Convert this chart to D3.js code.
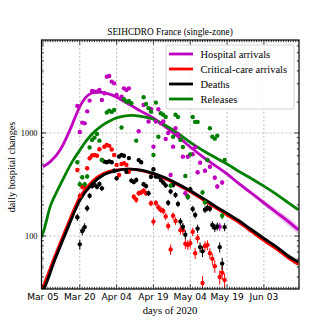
<!DOCTYPE html>
<html>
<head>
<meta charset="utf-8">
<script src="https://cdn.jsdelivr.net/npm/d3@7"></script>
<style>
  body { margin: 0; background: #fff; }
  svg { display: block; }
</style>
</head>
<body>
<div id="chart"></div>
<script>
// days are counted from Mar 05 2020 (day 0)
const seriesNames = ["Hospital arrivals", "Critical-care arrivals", "Deaths", "Releases"];
const seriesColors = ["#bf00bf", "#ff0000", "#000000", "#008000"];

// model curves [day, value]
const hospModel = [[0,470],[3,527],[7,684],[11,1070],[13,1400],[15,1800],[17,2150],[19,2380],[21,2470],[23,2490],[25,2450],[28,2340],[30,2220],[35,1900],[40,1620],[45,1390],[50,1140],[55,920],[60,730],[65,590],[70,485],[75,400],[80,320],[85,260],[90,210],[95,170],[100,138],[104,115]];
const critModel = [[-1,28],[0,32],[5,65],[10,128],[15,238],[20,338],[25,408],[30,438],[35,445],[40,432],[45,400],[50,358],[55,312],[60,268],[65,226],[70,190],[75,160],[80,134],[85,110],[90,90],[95,75],[100,61],[104,53]];
const deathModel = [[-1,26],[0,29],[5,60],[10,118],[15,222],[20,320],[25,395],[30,432],[35,445],[40,435],[45,405],[50,365],[55,320],[60,275],[65,233],[70,196],[75,166],[80,140],[85,115],[90,95],[95,79],[100,64],[104,56]];
const relModel = [[-1,95],[0,107],[3,195],[6,280],[9,390],[12,530],[15,680],[18,860],[21,1030],[24,1180],[27,1300],[30,1400],[33,1460],[36,1480],[40,1450],[45,1360],[50,1180],[55,990],[60,810],[65,680],[70,580],[75,500],[80,420],[85,360],[90,305],[95,255],[100,210],[104,180]];

// uncertainty band of hospital model [day, low, high]
const hospBand = [[55,915,925],[60,722,738],[70,475,495],[80,308,332],[90,198,222],[100,126,150],[104,104,126]];

// observed daily counts [day, value]
const hospObs = [[14,1830],[15,1020],[16,1260],[17,1240],[18,1620],[19,2060],[20,2560],[21,2520],[22,2520],[23,2610],[24,2090],[25,2430],[26,3520],[27,3570],[28,3150],[29,3030],[30,2340],[32,2250],[33,2710],[34,2610],[35,2710],[39,1040],[41,1870],[43,1290],[44,1710],[45,736],[46,1290],[47,1700],[48,1240],[49,1290],[50,874],[51,1000],[52,391],[53,736],[54,1110],[55,971],[56,870],[57,589],[58,260],[59,589],[61,621],[62,730],[63,415],[64,515],[66,430],[67,547],[68,470],[70,368],[71,302],[72,123],[73,330]];
const critObs = [[14,437],[15,245],[16,300],[17,300],[18,454],[19,568],[20,605],[21,610],[22,600],[23,694],[24,547],[25,735],[26,765],[27,750],[28,690],[29,612],[30,490],[31,391],[32,500],[33,510],[34,490],[35,420],[37,240],[38,225],[39,260],[40,265],[41,275],[42,260],[44,208],[45,138],[46,209],[47,190],[48,180],[49,175],[50,155],[51,125],[52,74],[53,157],[54,140],[56,114],[57,114],[58,84],[59,82],[60,85],[61,110],[62,68],[63,95],[65,35],[66,80],[67,82],[68,68],[69,60],[70,51],[72,40],[73,44],[74,37.5]];
const deathObs = [[14,152],[15,83],[16,112],[17,122],[18,186],[19,246],[20,305],[21,315],[22,300],[23,320],[24,290],[25,527],[26,520],[27,530],[28,520],[29,430],[30,364],[31,590],[32,610],[33,600],[34,420],[35,570],[36,345],[37,335],[38,350],[39,545],[40,520],[41,318],[42,305],[43,260],[44,376],[45,444],[46,378],[47,378],[48,350],[49,330],[50,310],[51,210],[52,270],[53,313],[54,250],[55,205],[56,138],[57,123],[58,103],[59,240],[60,284],[61,183],[62,160],[63,118],[64,78],[65,71],[66,180],[67,188],[68,184],[69,128],[70,120],[71,124],[72,78],[73,54],[74,122]];
const relObs = [[14,520],[15,318],[16,372],[17,318],[18,378],[19,722],[20,855],[21,900],[22,978],[23,842],[24,547],[26,1580],[27,1640],[28,1600],[29,1670],[32,1130],[33,2120],[34,2010],[35,2040],[36,1940],[38,842],[41,2220],[42,1910],[43,1740],[44,1610],[45,612],[46,1970],[47,920],[48,1555],[49,1500],[50,1430],[52,308],[53,920],[54,1500],[55,1430],[56,855],[57,730],[58,383],[59,240],[60,620],[61,1430],[62,1280],[63,1280],[65,265],[66,212],[67,547],[68,1110],[69,920],[70,880],[71,940],[73,157],[74,547]];

const majorTickDays = [0, 15, 30, 45, 60, 75, 90];
const yMajorTicks = [100, 1000];
const yMinorTicks = [40,50,60,70,80,90,200,300,400,500,600,700,800,900,2000,3000,4000,5000,6000,7000];

const W = 332, H = 332;
const pLeft = 41.5, pRight = 299, pTop = 40, pBottom = 289;
const day0 = Date.UTC(2020, 2, 5);
const dayMs = 864e5;
const toDate = d => new Date(day0 + d * dayMs);

const x = d3.scaleUtc()
    .domain([toDate(-0.6), toDate(104.3)])
    .range([pLeft, pRight]);
const y = d3.scaleLog()
    .domain([30.6, 7980])
    .range([pBottom, pTop]);

const svg = d3.select("#chart").append("svg")
    .attr("width", W)
    .attr("height", H);

svg.append("defs").append("clipPath").attr("id", "plotclip")
  .append("rect")
    .attr("x", pLeft).attr("y", pTop)
    .attr("width", pRight - pLeft).attr("height", pBottom - pTop);

// grid
const grid = svg.append("g");
grid.selectAll(".vg").data(majorTickDays).enter().append("line")
    .attr("x1", d => x(toDate(d))).attr("x2", d => x(toDate(d)))
    .attr("y1", pTop).attr("y2", pBottom)
    .attr("stroke", "#b0b0b0").attr("stroke-width", 0.8)
    .attr("stroke-dasharray", "2,2");
grid.selectAll(".hg").data(yMajorTicks).enter().append("line")
    .attr("x1", pLeft).attr("x2", pRight)
    .attr("y1", d => y(d)).attr("y2", d => y(d))
    .attr("stroke", "#b0b0b0").attr("stroke-width", 0.8)
    .attr("stroke-dasharray", "2,2");

const plot = svg.append("g").attr("clip-path", "url(#plotclip)");

// band
plot.append("path")
    .datum(hospBand)
    .attr("fill", "#bf00bf")
    .attr("opacity", 0.25)
    .attr("d", d3.area()
        .curve(d3.curveMonotoneX)
        .x(d => x(toDate(d[0])))
        .y0(d => y(d[1]))
        .y1(d => y(d[2])));

// model lines
const line = d3.line()
    .curve(d3.curveMonotoneX)
    .x(d => x(toDate(d[0])))
    .y(d => y(d[1]));

const models = [hospModel, critModel, deathModel, relModel];
models.forEach((m, i) => {
    plot.append("path")
        .datum(m)
        .attr("fill", "none")
        .attr("stroke", seriesColors[i])
        .attr("stroke-width", 2.8)
        .attr("d", line);
});

// observations with error bars
const obs = [hospObs, critObs, deathObs, relObs];
obs.forEach((o, i) => {
    const g = plot.append("g");
    g.selectAll("line").data(o).enter().append("line")
        .attr("x1", d => x(toDate(d[0]))).attr("x2", d => x(toDate(d[0])))
        .attr("y1", d => y(d[1] + Math.sqrt(d[1])))
        .attr("y2", d => y(Math.max(d[1] - Math.sqrt(d[1]), 1)))
        .attr("stroke", seriesColors[i])
        .attr("stroke-width", 1);
    g.selectAll("circle").data(o).enter().append("circle")
        .attr("cx", d => x(toDate(d[0])))
        .attr("cy", d => y(d[1]))
        .attr("r", 2.2)
        .attr("fill", seriesColors[i]);
});

// ticks (inward, all four sides)
const ticks = svg.append("g").attr("stroke", "#000").attr("stroke-width", 0.8);
d3.range(0, 105).forEach(d => {
    const xx = x(toDate(d));
    if (xx < pLeft || xx > pRight) return;
    const len = majorTickDays.includes(d) ? 4.5 : 2.2;
    ticks.append("line").attr("x1", xx).attr("x2", xx).attr("y1", pBottom).attr("y2", pBottom - len);
    ticks.append("line").attr("x1", xx).attr("x2", xx).attr("y1", pTop).attr("y2", pTop + len);
});
yMajorTicks.concat(yMinorTicks).forEach(v => {
    const yy = y(v);
    const len = yMajorTicks.includes(v) ? 4.5 : 2.2;
    ticks.append("line").attr("x1", pLeft).attr("x2", pLeft + len).attr("y1", yy).attr("y2", yy);
    ticks.append("line").attr("x1", pRight).attr("x2", pRight - len).attr("y1", yy).attr("y2", yy);
});

// frame
svg.append("rect")
    .attr("x", pLeft).attr("y", pTop)
    .attr("width", pRight - pLeft).attr("height", pBottom - pTop)
    .attr("fill", "none").attr("stroke", "#000").attr("stroke-width", 1.2);

// tick labels
const fmt = d3.utcFormat("%b %d");
svg.append("g").selectAll("text").data(majorTickDays).enter().append("text")
    .attr("x", d => x(toDate(d)))
    .attr("y", 300)
    .attr("text-anchor", "middle")
    .attr("font-family", "DejaVu Sans")
    .attr("font-size", 9.1)
    .attr("fill", "#000")
    .text(d => fmt(toDate(d)));

svg.append("g").selectAll("text").data(yMajorTicks).enter().append("text")
    .attr("x", 37.5)
    .attr("y", d => y(d))
    .attr("dy", "0.35em")
    .attr("text-anchor", "end")
    .attr("font-family", "Liberation Serif")
    .attr("font-size", 8.4)
    .text(d => d);

// titles
svg.append("text")
    .attr("x", 170).attr("y", 35)
    .attr("text-anchor", "middle")
    .attr("font-family", "Liberation Serif")
    .attr("font-size", 9.3)
    .text("SEIHCDRO France (single-zone)");

svg.append("text")
    .attr("x", 170).attr("y", 314)
    .attr("text-anchor", "middle")
    .attr("font-family", "Liberation Serif")
    .attr("font-size", 10.6)
    .text("days of 2020");

svg.append("text")
    .attr("transform", "translate(15,167) rotate(-90)")
    .attr("text-anchor", "middle")
    .attr("font-family", "Liberation Serif")
    .attr("font-size", 10.2)
    .text("daily hospital changes");

// legend
const legend = svg.append("g");
legend.append("rect")
    .attr("x", 166).attr("y", 45)
    .attr("width", 128).attr("height", 64)
    .attr("rx", 2)
    .attr("fill", "#fff").attr("fill-opacity", 0.8)
    .attr("stroke", "#cccccc").attr("stroke-width", 0.8);

const items = legend.selectAll(".item")
    .data(seriesNames)
    .enter().append("g")
    .attr("class", "item")
    .attr("transform", (d, i) => `translate(169, ${54 + i * 15})`);

items.append("line")
    .attr("x1", 0).attr("x2", 24)
    .attr("stroke", (d, i) => seriesColors[i])
    .attr("stroke-width", 2.8);

items.append("text")
    .attr("x", 31.5)
    .attr("dy", "0.35em")
    .attr("font-family", "Liberation Serif")
    .attr("font-size", 10.5)
    .text(d => d);
</script>
</body>
</html>
